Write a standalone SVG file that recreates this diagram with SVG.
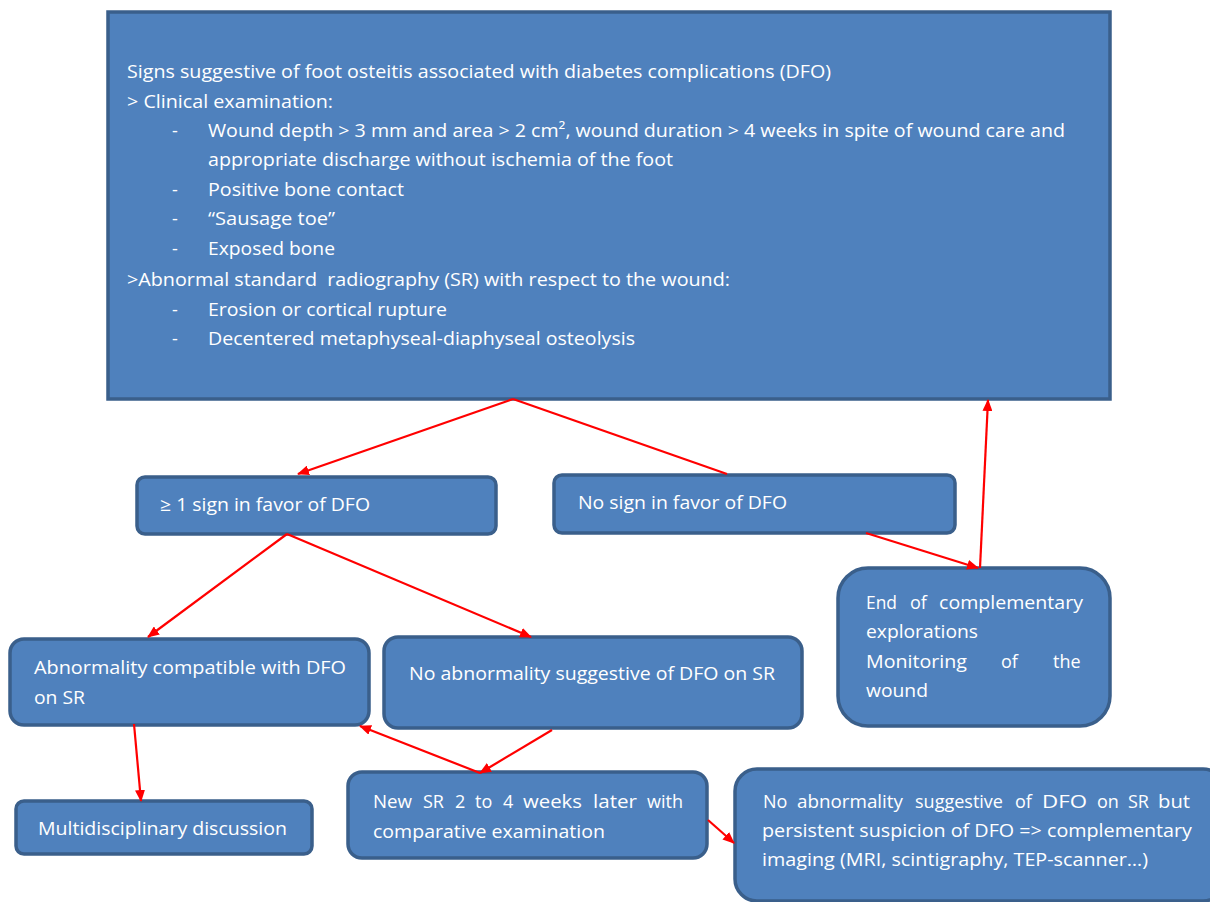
<svg xmlns="http://www.w3.org/2000/svg" width="1210" height="902" viewBox="0 0 1210 902">
  <defs>
    <marker id="arrow" viewBox="0 0 12 10" refX="11" refY="5" markerWidth="12" markerHeight="10" markerUnits="userSpaceOnUse" orient="auto">
      <path d="M0,0 L12,5 L0,10 z" fill="#FF0000"/>
    </marker>
    <style>
      .box { fill: #4F81BD; stroke: #3A5F8B; stroke-width: 3.5; }
      .t { fill: #FFFFFF; font-family: "Open Sans", "Liberation Sans", sans-serif; font-size: 18px; }
      .conn line { stroke: #FF0000; stroke-width: 2.2; fill: none; }
      .arr { marker-end: url(#arrow); }
    </style>
  </defs>
  <rect width="1210" height="902" fill="#FFFFFF"/>

  <!-- Main criteria box -->
  <g id="node-criteria">
    <rect class="box" x="108" y="12" width="1002" height="387"/>
    <text class="t" x="127" y="78" textLength="704" lengthAdjust="spacingAndGlyphs">Signs suggestive of foot osteitis associated with diabetes complications (DFO)</text>
    <text class="t" x="127" y="108" textLength="206" lengthAdjust="spacingAndGlyphs">&gt; Clinical examination:</text>
    <text class="t" x="172" y="137">-</text>
    <text class="t" x="208" y="137" textLength="857" lengthAdjust="spacingAndGlyphs">Wound depth &gt; 3 mm and area &gt; 2 cm², wound duration &gt; 4 weeks in spite of wound care and</text>
    <text class="t" x="208" y="166" textLength="465" lengthAdjust="spacingAndGlyphs">appropriate discharge without ischemia of the foot</text>
    <text class="t" x="172" y="196">-</text>
    <text class="t" x="208" y="196" textLength="196" lengthAdjust="spacingAndGlyphs">Positive bone contact</text>
    <text class="t" x="172" y="225">-</text>
    <text class="t" x="208" y="225" textLength="127" lengthAdjust="spacingAndGlyphs">“Sausage toe”</text>
    <text class="t" x="172" y="255">-</text>
    <text class="t" x="208" y="255" textLength="127" lengthAdjust="spacingAndGlyphs">Exposed bone</text>
    <text class="t" x="127" y="286" textLength="603" lengthAdjust="spacingAndGlyphs" xml:space="preserve">&gt;Abnormal standard  radiography (SR) with respect to the wound:</text>
    <text class="t" x="172" y="316">-</text>
    <text class="t" x="208" y="316" textLength="239" lengthAdjust="spacingAndGlyphs">Erosion or cortical rupture</text>
    <text class="t" x="172" y="345">-</text>
    <text class="t" x="208" y="345" textLength="427" lengthAdjust="spacingAndGlyphs">Decentered metaphyseal-diaphyseal osteolysis</text>
  </g>

  <g id="node-sign-yes">
    <rect class="box" x="137" y="477" width="359" height="57" rx="8"/>
    <text class="t" x="160" y="511" textLength="210" lengthAdjust="spacingAndGlyphs">≥ 1 sign in favor of DFO</text>
  </g>

  <g id="node-sign-no">
    <rect class="box" x="554" y="475" width="401" height="58" rx="8"/>
    <text class="t" x="578" y="509" textLength="209" lengthAdjust="spacingAndGlyphs">No sign in favor of DFO</text>
  </g>

  <g id="node-end">
    <rect class="box" x="838" y="568" width="272" height="158" rx="30"/>
    <!-- justified lines: one text per word -->
    <text class="t" x="866" y="609" textLength="31" lengthAdjust="spacingAndGlyphs">End</text>
    <text class="t" x="910" y="609">of</text>
    <text class="t" x="939" y="609" textLength="144" lengthAdjust="spacingAndGlyphs">complementary</text>
    <text class="t" x="866" y="638" textLength="112" lengthAdjust="spacingAndGlyphs">explorations</text>
    <text class="t" x="866" y="668" textLength="101" lengthAdjust="spacingAndGlyphs">Monitoring</text>
    <text class="t" x="1001" y="668">of</text>
    <text class="t" x="1053" y="668">the</text>
    <text class="t" x="866" y="697" textLength="62" lengthAdjust="spacingAndGlyphs">wound</text>
  </g>

  <g id="node-abnormal">
    <rect class="box" x="10" y="639" width="359" height="86" rx="14"/>
    <text class="t" x="34" y="674" textLength="312" lengthAdjust="spacingAndGlyphs">Abnormality compatible with DFO</text>
    <text class="t" x="34" y="704" textLength="51" lengthAdjust="spacingAndGlyphs">on SR</text>
  </g>

  <g id="node-normal">
    <rect class="box" x="384" y="637" width="418" height="91" rx="14"/>
    <text class="t" x="409" y="680" textLength="366" lengthAdjust="spacingAndGlyphs">No abnormality suggestive of DFO on SR</text>
  </g>

  <g id="node-discussion">
    <rect class="box" x="16" y="801" width="296" height="53" rx="8"/>
    <text class="t" x="38" y="835" textLength="249" lengthAdjust="spacingAndGlyphs">Multidisciplinary discussion</text>
  </g>

  <g id="node-new-sr">
    <rect class="box" x="348" y="772" width="359" height="86" rx="14"/>
    <text class="t" x="373" y="808" textLength="39" lengthAdjust="spacingAndGlyphs">New</text>
    <text class="t" x="423" y="808">SR</text>
    <text class="t" x="455" y="808">2</text>
    <text class="t" x="475" y="808">to</text>
    <text class="t" x="503" y="808">4</text>
    <text class="t" x="523" y="808" textLength="59" lengthAdjust="spacingAndGlyphs">weeks</text>
    <text class="t" x="593" y="808" textLength="44" lengthAdjust="spacingAndGlyphs">later</text>
    <text class="t" x="647" y="808" textLength="36" lengthAdjust="spacingAndGlyphs">with</text>
    <text class="t" x="373" y="838" textLength="232" lengthAdjust="spacingAndGlyphs">comparative examination</text>
  </g>

  <g id="node-imaging">
    <rect class="box" x="735" y="769" width="490" height="132" rx="22"/>
    <text class="t" x="763" y="808">No</text>
    <text class="t" x="797" y="808" textLength="106" lengthAdjust="spacingAndGlyphs">abnormality</text>
    <text class="t" x="915" y="808" textLength="88" lengthAdjust="spacingAndGlyphs">suggestive</text>
    <text class="t" x="1015" y="808">of</text>
    <text class="t" x="1042" y="808" textLength="45" lengthAdjust="spacingAndGlyphs">DFO</text>
    <text class="t" x="1097" y="808">on</text>
    <text class="t" x="1128" y="808">SR</text>
    <text class="t" x="1158" y="808" textLength="32" lengthAdjust="spacingAndGlyphs">but</text>
    <text class="t" x="762" y="837" textLength="430" lengthAdjust="spacingAndGlyphs">persistent suspicion of DFO =&gt; complementary</text>
    <text class="t" x="762" y="866" textLength="386" lengthAdjust="spacingAndGlyphs">imaging (MRI, scintigraphy, TEP-scanner…)</text>
  </g>

  <!-- Connectors -->
  <g id="connectors" class="conn">
    <line class="arr" x1="513" y1="399" x2="298" y2="474"/>
    <line x1="513" y1="399" x2="727" y2="474"/>
    <line class="arr" x1="866" y1="533" x2="978" y2="568"/>
    <line class="arr" x1="980" y1="568" x2="988" y2="400"/>
    <line class="arr" x1="287" y1="534" x2="148" y2="637"/>
    <line class="arr" x1="287" y1="534" x2="531" y2="637"/>
    <line class="arr" x1="134" y1="724" x2="141" y2="801"/>
    <line class="arr" x1="552" y1="730" x2="480" y2="773"/>
    <line class="arr" x1="480" y1="773" x2="360" y2="726"/>
    <line class="arr" x1="708" y1="820" x2="734" y2="843"/>
  </g>
</svg>
